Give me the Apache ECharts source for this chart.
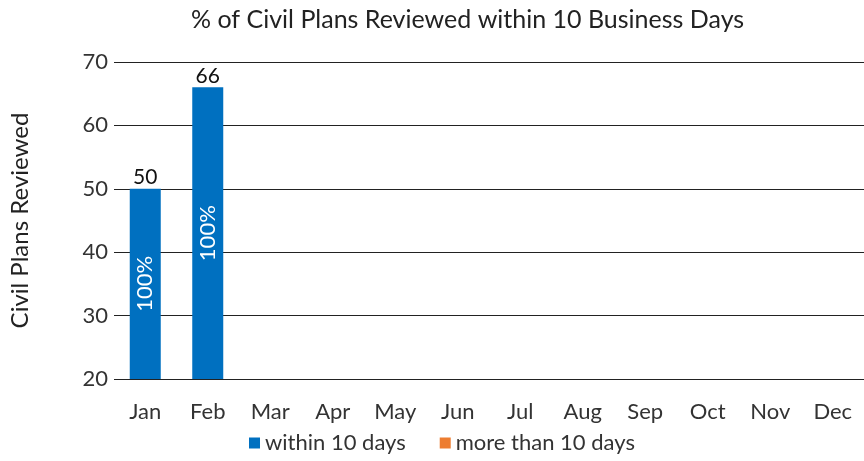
<!DOCTYPE html>
<html><head><meta charset="utf-8">
<script src="https://cdn.jsdelivr.net/npm/echarts@6/dist/echarts.min.js"></script>
<style>html,body{margin:0;padding:0;background:#fff}#c{width:864px;height:461px}</style>
</head><body><div id="c"></div>
<script>
const categories = ['Jan','Feb','Mar','Apr','May','Jun','Jul','Aug','Sep','Oct','Nov','Dec'];
const within10 = [50, 66, null, null, null, null, null, null, null, null, null, null];
const moreThan10 = [0, 0, null, null, null, null, null, null, null, null, null, null];
const pctWithin = ['100%', '100%'];
const yTicks = {min: 20, max: 70, interval: 10};
const FONT = 'Lato, "Open Sans", sans-serif';

const chart = echarts.init(document.getElementById('c'));
chart.setOption({
  animation: false,
  title: {text: '% of Civil Plans Reviewed within 10 Business Days', left: 186, top: 2,
    textStyle: {fontFamily: FONT, fontWeight: 'normal', fontSize: 25, color: '#222'}},
  legend: {bottom: 2, left: 244, itemWidth: 11, itemHeight: 11, itemGap: 34,
    icon: 'rect', textStyle: {fontFamily: FONT, fontSize: 22, color: '#333'},
    data: ['within 10 days', 'more than 10 days']},
  grid: {left: 112, top: 62, width: 757, height: 317},
  xAxis: {type: 'category', data: categories,
    axisLine: {show: false}, axisTick: {show: false},
    axisLabel: {fontFamily: FONT, fontSize: 22, color: '#333', margin: 22}},
  yAxis: {type: 'value', min: yTicks.min, max: yTicks.max, interval: yTicks.interval,
    name: 'Civil Plans Reviewed', nameLocation: 'middle', nameGap: 82,
    nameTextStyle: {fontFamily: FONT, fontSize: 24, color: '#222'},
    axisLine: {show: false}, axisTick: {show: false},
    axisLabel: {fontFamily: FONT, fontSize: 22, color: '#333', margin: 6},
    splitLine: {lineStyle: {color: '#222', width: 1}}},
  series: [
    {name: 'within 10 days', type: 'bar', stack: 'a', data: within10, barWidth: 31,
      itemStyle: {color: '#0070C0'},
      label: {show: true, position: 'inside', rotate: 90, color: '#fff', fontFamily: FONT, fontSize: 22,
        formatter: p => pctWithin[p.dataIndex] || ''}},
    {name: 'more than 10 days', type: 'bar', stack: 'a', data: moreThan10, barWidth: 31,
      itemStyle: {color: '#ED7D31'},
      label: {show: true, position: 'top', distance: 1, color: '#111', fontFamily: FONT, fontSize: 21,
        formatter: p => (within10[p.dataIndex] || 0) + (moreThan10[p.dataIndex] || 0)}}
  ]
});
</script></body></html>
